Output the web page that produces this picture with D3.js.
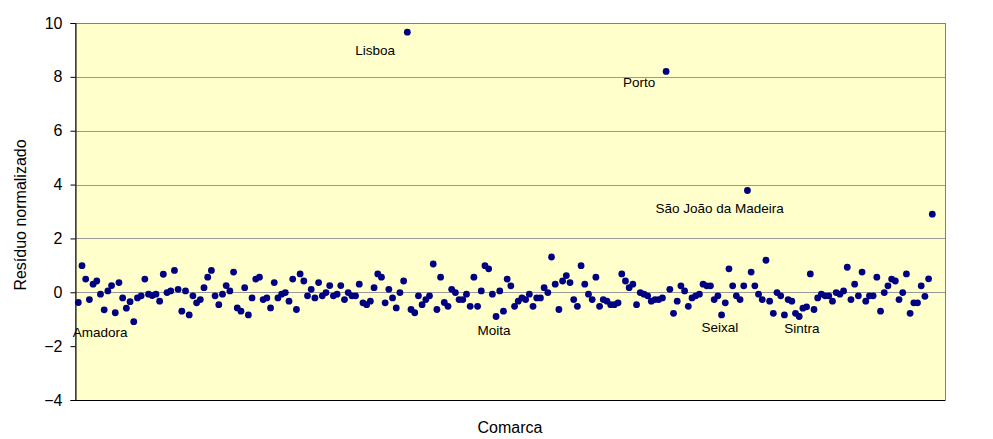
<!DOCTYPE html>
<html>
<head>
<meta charset="utf-8">
<script src="https://cdn.jsdelivr.net/npm/d3@7"></script>
<style>
  html, body { margin: 0; padding: 0; background: #ffffff; }
  svg { display: block; }
  text { font-family: "Liberation Sans", Arial, sans-serif; fill: #000; }
</style>
</head>
<body>
<svg id="chart" width="993" height="439"></svg>
<script>
// ---- data ----
const values = [
  -0.38, 0.99, 0.49, -0.27, 0.30, 0.42, -0.07, -0.65, 0.05, 0.25,
  -0.76, 0.36, -0.21, -0.59, -0.35, -1.09, -0.21, -0.13, 0.49, -0.07,
  -0.12, -0.07, -0.33, 0.67, -0.01, 0.05, 0.81, 0.11, -0.70, 0.05,
  -0.84, -0.13, -0.39, -0.27, 0.17, 0.56, 0.81, -0.13, -0.46, -0.07,
  0.25, 0.05, 0.75, -0.58, -0.70, 0.17, -0.84, -0.21, 0.49, 0.56,
  -0.27, -0.21, -0.58, 0.36, -0.21, -0.07, -0.01, -0.33, 0.49, -0.64,
  0.68, 0.42, -0.13, 0.11, -0.21, 0.36, -0.13, -0.01, 0.25, -0.13,
  -0.07, 0.25, -0.27, -0.01, -0.13, -0.13, 0.30, -0.39, -0.46, -0.33,
  0.17, 0.68, 0.56, -0.39, 0.11, -0.21, -0.58, -0.01, 0.42, 9.66,
  -0.64, -0.76, -0.13, -0.46, -0.27, -0.13, 1.05, -0.64, 0.56, -0.38,
  -0.52, 0.11, -0.01, -0.27, -0.27, -0.07, -0.52, 0.56, -0.52, 0.05,
  0.99, 0.87, -0.07, -0.90, 0.05, -0.70, 0.49, 0.24, -0.52, -0.33,
  -0.21, -0.27, -0.07, -0.52, -0.21, -0.21, 0.17, -0.01, 1.31, 0.30,
  -0.64, 0.42, 0.62, 0.36, -0.27, -0.52, 0.99, 0.30, -0.07, -0.27,
  0.56, -0.52, -0.27, -0.33, -0.46, -0.46, -0.39, 0.68, 0.42, 0.17,
  0.30, -0.46, -0.01, -0.07, -0.13, -0.33, -0.27, -0.27, -0.21, 8.20,
  0.11, -0.78, -0.33, 0.24, 0.05, -0.52, -0.21, -0.13, -0.07, 0.30,
  0.24, 0.24, -0.27, -0.13, -0.84, -0.39, 0.87, 0.24, -0.13, -0.27,
  0.24, 3.78, 0.75, 0.24, -0.07, -0.27, 1.19, -0.33, -0.78, -0.01,
  -0.13, -0.84, -0.27, -0.33, -0.78, -0.90, -0.59, -0.54, 0.68, -0.64,
  -0.21, -0.07, -0.13, -0.13, -0.33, -0.01, -0.07, 0.05, 0.93, -0.27,
  0.30, -0.13, 0.75, -0.33, -0.13, -0.13, 0.56, -0.70, -0.01, 0.24,
  0.49, 0.42, -0.27, -0.01, 0.68, -0.78, -0.39, -0.39, 0.24, -0.15,
  0.50, 2.90
];
const categories = values.map((v, i) => i + 1);
const yTicks = [-4, -2, 0, 2, 4, 6, 8, 10];
const gridValues = [0, 2, 4, 6, 8];
const labelNames = ["Amadora", "Lisboa", "Moita", "Porto", "Seixal", "São João da Madeira", "Sintra"];
const labelIndex = [16, 90, 114, 160, 175, 182, 196];
const yTitle = "Resíduo normalizado";
const xTitle = "Comarca";

// ---- layout (not data) ----
const plot = { left: 75, right: 945, top: 23, bottom: 400 };
const labelOffsets = [[-61, 15.5], [-52, 22.5], [-18.5, 18.5], [-43, 15.5], [-20, 17.5], [-92, 22.5], [-15, 16]];

const svg = d3.select("#chart");

const x = d3.scalePoint().domain(categories).range([78.3, 932.3]);
const y = d3.scaleLinear().domain([-4, 10]).range([plot.bottom, plot.top]);

// plot area
svg.append("rect")
  .attr("x", plot.left).attr("y", plot.top)
  .attr("width", plot.right - plot.left).attr("height", plot.bottom - plot.top)
  .attr("fill", "#FFFFCC").attr("stroke", "#808080").attr("stroke-width", 1)
  .attr("shape-rendering", "crispEdges");

// gridlines
svg.append("g").selectAll("line").data(gridValues).join("line")
  .attr("x1", plot.left).attr("x2", plot.right)
  .attr("y1", d => Math.round(y(d)) + 0.5).attr("y2", d => Math.round(y(d)) + 0.5)
  .attr("stroke", "#999999").attr("stroke-width", 1);

// y axis
const yAxis = d3.axisLeft(y).tickValues(yTicks).tickSize(5).tickPadding(8).tickFormat(d3.format("d"));
const gy = svg.append("g").attr("transform", `translate(${plot.left + 0.5},0)`).call(yAxis);
gy.select(".domain").attr("stroke", "#000");
gy.selectAll(".tick line").attr("stroke", "#000");
gy.selectAll(".tick text").style("font-size", "16px").style("font-family", '"Liberation Sans", Arial, sans-serif').attr("fill", "#000");

// bottom axis line
svg.append("line")
  .attr("x1", plot.left).attr("x2", plot.right)
  .attr("y1", plot.bottom + 0.5).attr("y2", plot.bottom + 0.5)
  .attr("stroke", "#000");

// points
svg.append("g").selectAll("circle").data(values).join("circle")
  .attr("cx", (d, i) => x(categories[i]))
  .attr("cy", d => y(d))
  .attr("r", 3.4)
  .attr("fill", "#000080");

// point labels
svg.append("g").selectAll("text").data(labelNames).join("text")
  .attr("x", (d, i) => x(labelIndex[i]) + labelOffsets[i][0])
  .attr("y", (d, i) => y(values[labelIndex[i] - 1]) + labelOffsets[i][1])
  .style("font-size", "13.5px")
  .text(d => d);

// axis titles
svg.append("text")
  .attr("transform", `translate(26,215) rotate(-90)`)
  .attr("text-anchor", "middle")
  .style("font-size", "16px")
  .text(yTitle);

svg.append("text")
  .attr("x", (plot.left + plot.right) / 2).attr("y", 433)
  .attr("text-anchor", "middle")
  .style("font-size", "16px")
  .text(xTitle);
</script>
</body>
</html>
